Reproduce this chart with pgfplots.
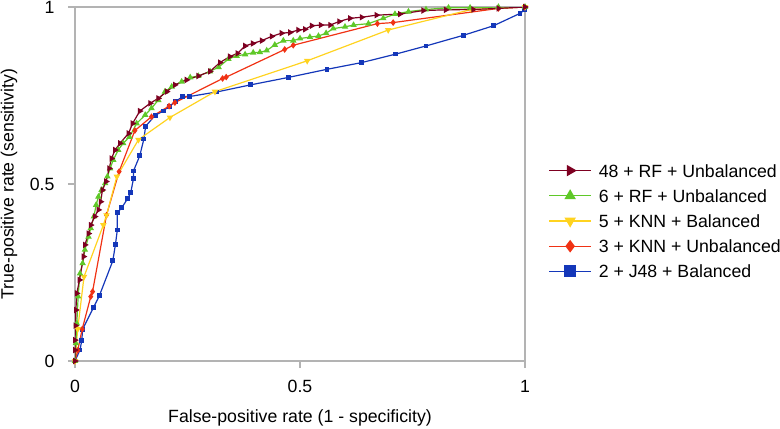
\documentclass[border=0pt]{standalone}
\usepackage{fontspec}
\setmainfont{Liberation Sans}
\usepackage{pgfplots}
\pgfplotsset{compat=1.18}
\definecolor{cmaroon}{RGB}{126,0,33}
\definecolor{cgreen}{RGB}{95,200,40}
\definecolor{cyellow}{RGB}{255,211,32}
\definecolor{cred}{RGB}{240,50,20}
\definecolor{cblue}{RGB}{20,55,185}
\definecolor{axisgray}{RGB}{179,179,179}
\begin{document}
\fontsize{8.85}{10.6}\selectfont
\begin{tikzpicture}
\path[use as bounding box] (-37.5pt,-33.5pt) rectangle (352.5pt,180.5pt);
\begin{axis}[
  scale only axis, width=225pt, height=177pt,
  at={(0,0)}, anchor=south west,
  xmin=0, xmax=1, ymin=0, ymax=1,
  xtick={0,0.5,1}, ytick={0,0.5,1},
  xticklabels={0,0.5,1}, yticklabels={0,0.5,1},
  xtick pos=bottom, ytick pos=left,
  tick align=outside, major tick length=3.5pt,
  axis line style={draw=axisgray, line width=0.6pt},
  tick style={draw=axisgray, line width=0.6pt},
  /pgf/number format/assume math mode=true,
  tick label style={font=\fontsize{8.85}{10.6}\selectfont, text=black},
  xticklabel style={yshift=-3pt},
  yticklabel style={xshift=-3.5pt},
  label style={font=\fontsize{8.85}{10.6}\selectfont},
  xlabel={False-positive rate (1 - specificity)},
  ylabel={True-positive rate (sensitivity)},
  xlabel style={at={(axis description cs:0.5,-0.162)}, anchor=center},
  ylabel style={at={(axis description cs:-0.1467,0.5)}, anchor=center, rotate=0},
  line width=0.6pt,
  legend image code/.code={\draw[mark repeat=2,mark phase=2,#1] plot coordinates {(0pt,0pt)(10.5pt,0pt)(21pt,0pt)};},
  legend image post style={mark size=2.7pt},
  reverse legend,
  legend cell align=left,
  legend style={at={(axis description cs:1.051,0.3955)}, anchor=west, draw=none, fill=none,
    inner sep=0pt, row sep=6.1pt, column sep=3.5pt,
    nodes={inner sep=0pt, text height=6.5pt, text depth=0pt},
    font=\fontsize{8.85}{10.6}\selectfont},
]
\addplot[color=cblue, mark=square*, mark size=0.9pt] coordinates {
(0,0)(0.011,0.031)(0.015,0.057)(0.017,0.090)(0.041,0.151)(0.054,0.184)(0.084,0.283)(0.090,0.330)(0.094,0.370)(0.094,0.419)(0.104,0.433)(0.117,0.459)(0.124,0.476)(0.130,0.516)(0.130,0.537)(0.144,0.580)(0.153,0.627)(0.157,0.663)(0.178,0.694)(0.196,0.706)(0.210,0.720)(0.224,0.733)(0.239,0.747)(0.254,0.747)(0.315,0.760)(0.390,0.780)(0.474,0.801)(0.560,0.824)(0.637,0.843)(0.713,0.867)(0.780,0.890)(0.863,0.920)(0.930,0.947)(0.989,0.982)(0.999,0.992)(1,1)};
\addlegendentry{2 + J48 + Balanced}
\addplot[color=cred, mark=diamond*, mark size=1.2pt] coordinates {
(0,0)(0.006,0.030)(0.016,0.090)(0.035,0.182)(0.039,0.196)(0.070,0.412)(0.098,0.535)(0.133,0.651)(0.170,0.690)(0.209,0.720)(0.222,0.730)(0.328,0.798)(0.336,0.802)(0.466,0.880)(0.485,0.892)(0.672,0.953)(0.707,0.956)(0.941,0.996)(1,1)};
\addlegendentry{3 + KNN + Unbalanced}
\addplot[color=cyellow, mark=triangle*, mark size=1.3pt, mark options={rotate=180}] coordinates {
(0,0)(0.006,0.090)(0.020,0.238)(0.063,0.384)(0.070,0.412)(0.093,0.521)(0.141,0.625)(0.211,0.688)(0.311,0.761)(0.516,0.848)(0.696,0.935)(0.881,0.993)(1,1)};
\addlegendentry{5 + KNN + Balanced}
\addplot[color=cgreen, mark=triangle*, mark size=1.3pt] coordinates {
(0,0)(0.002,0.050)(0.004,0.106)(0.007,0.182)(0.011,0.247)(0.017,0.276)(0.022,0.314)(0.030,0.351)(0.035,0.375)(0.042,0.408)(0.047,0.441)(0.052,0.464)(0.059,0.483)(0.067,0.502)(0.072,0.521)(0.078,0.544)(0.085,0.568)(0.096,0.596)(0.107,0.615)(0.121,0.633)(0.137,0.671)(0.156,0.695)(0.170,0.714)(0.185,0.737)(0.200,0.761)(0.215,0.775)(0.237,0.789)(0.256,0.801)(0.274,0.805)(0.300,0.818)(0.319,0.830)(0.341,0.853)(0.359,0.862)(0.378,0.866)(0.396,0.871)(0.411,0.872)(0.426,0.877)(0.444,0.893)(0.463,0.905)(0.485,0.905)(0.500,0.911)(0.522,0.915)(0.541,0.918)(0.558,0.926)(0.574,0.939)(0.600,0.944)(0.619,0.949)(0.652,0.953)(0.685,0.968)(0.711,0.980)(0.741,0.987)(0.780,0.993)(0.830,0.998)(0.878,0.998)(0.941,1.0)(1,1)};
\addlegendentry{6 + RF + Unbalanced}
\addplot[color=cmaroon, mark=triangle*, mark size=1.3pt, mark options={rotate=-90}] coordinates {
(0,0)(0,0.031)(0,0.059)(0.001,0.100)(0.002,0.144)(0.004,0.191)(0.010,0.229)(0.019,0.295)(0.022,0.328)(0.030,0.360)(0.035,0.384)(0.044,0.408)(0.052,0.427)(0.057,0.450)(0.061,0.483)(0.069,0.507)(0.076,0.544)(0.081,0.572)(0.089,0.596)(0.100,0.615)(0.119,0.643)(0.128,0.671)(0.144,0.706)(0.167,0.728)(0.185,0.742)(0.204,0.761)(0.222,0.780)(0.248,0.794)(0.274,0.805)(0.300,0.818)(0.322,0.843)(0.344,0.860)(0.361,0.869)(0.378,0.890)(0.395,0.897)(0.415,0.905)(0.437,0.917)(0.459,0.926)(0.478,0.928)(0.496,0.935)(0.511,0.937)(0.526,0.947)(0.546,0.949)(0.567,0.949)(0.587,0.959)(0.611,0.968)(0.637,0.971)(0.670,0.977)(0.722,0.980)(0.774,0.990)(0.824,0.992)(0.885,0.993)(0.941,0.996)(1,1)};
\addlegendentry{48 + RF + Unbalanced}
\end{axis}
\end{tikzpicture}
\end{document}
